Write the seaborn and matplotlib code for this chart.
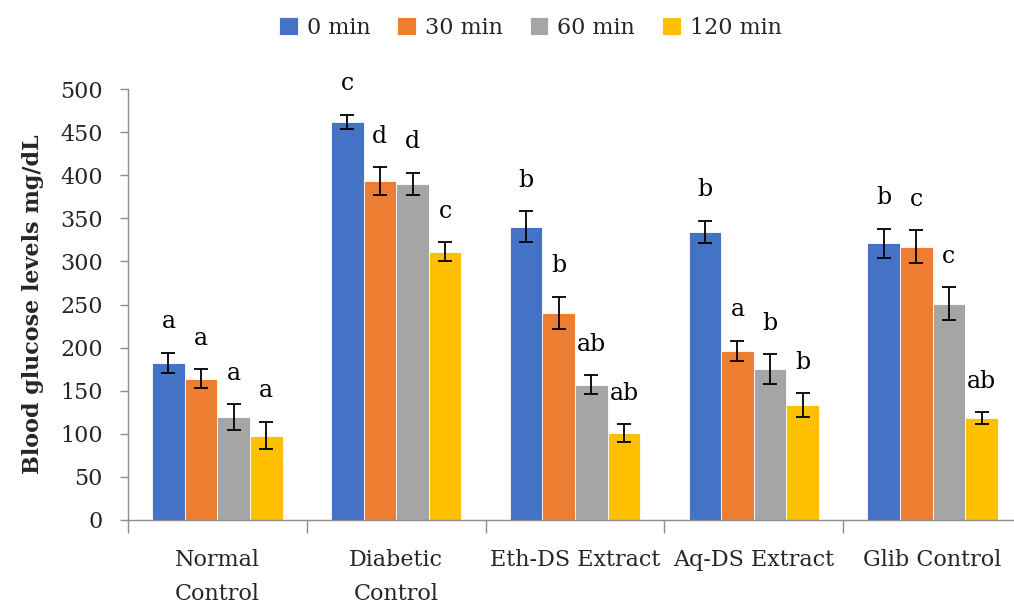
import matplotlib
matplotlib.use("Agg")
import matplotlib.pyplot as plt
import seaborn as sns
import pandas as pd
import numpy as np

# Groups, time points and measurements (mean ± SE, mg/dL)
groups = ["Normal\nControl", "Diabetic\nControl", "Eth-DS Extract", "Aq-DS Extract", "Glib Control"]
times = ["0 min", "30 min", "60 min", "120 min"]

means_0 = [182, 462, 340, 334, 321]
means_30 = [164, 393, 240, 196, 317]
means_60 = [119, 390, 157, 175, 251]
means_120 = [98, 311, 101, 133, 118]

err_0 = [12, 8, 18, 13, 17]
err_30 = [11, 16, 19, 12, 19]
err_60 = [15, 13, 11, 17, 19]
err_120 = [16, 11, 10, 14, 7]

letters_0 = ["a", "c", "b", "b", "b"]
letters_30 = ["a", "d", "b", "a", "c"]
letters_60 = ["a", "d", "ab", "b", "c"]
letters_120 = ["a", "c", "ab", "b", "ab"]

colors = ["#4472C4", "#ED7D31", "#A5A5A5", "#FFC000"]

means = [means_0, means_30, means_60, means_120]
errs = [err_0, err_30, err_60, err_120]
letters = [letters_0, letters_30, letters_60, letters_120]

df = pd.DataFrame({
    "group": [g for t in times for g in groups],
    "time": [t for t in times for g in groups],
    "glucose": [v for series in means for v in series],
})

sns.set_theme(style="white")
plt.rcParams["font.family"] = ["DejaVu Serif"]

fig = plt.figure(figsize=(10.14, 6.06), dpi=100)
ax = fig.add_axes([128 / 1014, 86 / 606, 894 / 1014, 431 / 606])

sns.barplot(data=df, x="group", y="glucose", hue="time", order=groups,
            hue_order=times, palette=colors, errorbar=None, width=0.73,
            saturation=1, edgecolor="white", linewidth=0.6, ax=ax)

# Error bars and significance letters over each bar
for container, e_series, l_series in zip(ax.containers, errs, letters):
    for patch, e, lab in zip(container.patches, e_series, l_series):
        xc = patch.get_x() + patch.get_width() / 2
        h = patch.get_height()
        ax.errorbar(xc, h, yerr=e, fmt="none", ecolor="black",
                    elinewidth=1.3, capsize=5, capthick=1.3)
        ax.text(xc, h + e + 36, lab, ha="center", va="center",
                fontsize=17, color="black")

ax.set_ylim(0, 500)
ax.set_xlim(-0.5, 4.5)
ax.set_yticks(np.arange(0, 501, 50))
ax.set_xlabel("")
ax.set_ylabel("Blood glucose levels mg/dL", fontsize=16, fontweight="bold",
              labelpad=12)

ax.tick_params(axis="y", which="major", labelsize=16, length=6, width=1,
               color="#8c8c8c", left=True, pad=12)
ax.tick_params(axis="x", which="major", labelsize=16, length=0, pad=21)
ax.set_xticks(np.arange(-0.5, 5, 1), minor=True)
ax.tick_params(axis="x", which="minor", length=9, width=1, color="#8c8c8c",
               bottom=True)
for lbl in ax.get_xticklabels():
    lbl.set_linespacing(1.7)

for side in ["top", "right"]:
    ax.spines[side].set_visible(False)
for side in ["left", "bottom"]:
    ax.spines[side].set_color("#8c8c8c")
    ax.spines[side].set_linewidth(1)

ax.legend(loc="center", bbox_to_anchor=(0.523, 0.954),
          bbox_transform=fig.transFigure, ncol=4, frameon=False,
          fontsize=16, handlelength=0.85, handleheight=0.85,
          handletextpad=0.4, columnspacing=1.2)

fig.savefig("out.png", dpi=100)
